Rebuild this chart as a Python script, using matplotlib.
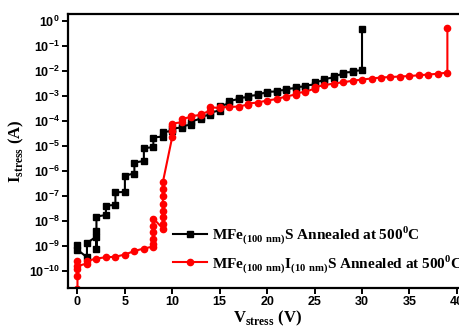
import numpy as np
import matplotlib
matplotlib.use("Agg")
import matplotlib.pyplot as plt
from matplotlib.ticker import LogFormatterMathtext, FixedLocator

# stress sweep of the annealed stacks; currents stored as log10(I / A)
black_v = [0, 0, 1, 1, 2, 2, 2, 2, 3, 3, 4, 4, 5, 5, 6, 6, 7, 7, 8, 8, 9, 9,
           10, 10, 11, 11, 12, 12, 13, 13, 14, 14, 15, 15, 16, 16, 17, 17,
           18, 18, 19, 19, 20, 20, 21, 21, 22, 22, 23, 23, 24, 24, 25, 25,
           26, 26, 27, 27, 28, 28, 29, 29, 30, 30]
black_log_i = [-8.95, -9.15, -9.45, -8.88, -8.62, -9.12, -8.4, -7.82,
               -7.76, -7.38, -7.36, -6.85, -6.84, -6.18, -6.1, -5.66,
               -5.6, -5.08, -5.05, -4.66, -4.62, -4.44, -4.4, -4.3,
               -4.26, -4.2, -4.15, -4.02, -3.9, -3.82, -3.75, -3.66,
               -3.58, -3.4, -3.3, -3.2, -3.12, -3.08, -3.04, -3.0,
               -2.96, -2.92, -2.86, -2.83, -2.82, -2.78, -2.76, -2.72,
               -2.68, -2.64, -2.62, -2.58, -2.54, -2.44, -2.38, -2.32,
               -2.26, -2.2, -2.12, -2.06, -2.04, -2.0, -1.97, -0.3]

red_v = [0, 0, 0, 0, 0, 1, 1, 2, 3, 4, 5, 6, 7,
         8, 8, 8, 8, 8, 8, 9, 9, 9, 9, 9, 9, 9, 9,
         10, 10, 10, 10, 11, 11, 12, 12, 13, 13, 14, 14, 15, 15,
         16, 17, 18, 18, 19, 20, 21, 22, 23, 23, 24, 25, 25, 26,
         27, 28, 29, 30, 31, 32, 33, 34, 35, 36, 37, 38, 39, 39]
red_log_i = [-10.72, -10.2, -9.9, -9.6, -9.8, -9.7, -9.6, -9.5, -9.45,
             -9.43, -9.34, -9.2, -9.1,
             -9.02, -8.9, -8.7, -8.45, -8.2, -7.9,
             -8.3, -8.1, -7.85, -7.6, -7.3, -7.0, -6.7, -6.45,
             -4.62, -4.4, -4.2, -4.1, -4.05, -3.9, -3.85, -3.8,
             -3.76, -3.72, -3.6, -3.45, -3.48, -3.45,
             -3.44, -3.42, -3.34, -3.3, -3.26, -3.18, -3.12, -3.02,
             -2.94, -2.88, -2.84, -2.7, -2.64, -2.57,
             -2.5, -2.45, -2.39, -2.34, -2.3, -2.26, -2.24, -2.22,
             -2.2, -2.17, -2.14, -2.11, -2.06, -0.28]

black_label = r'MFe$_{\mathdefault{(100\ nm)}}$S Annealed at 500$^{\mathdefault{0}}$C'
red_label = (r'MFe$_{\mathdefault{(100\ nm)}}$I$_{\mathdefault{(10\ nm)}}$'
             r'S Annealed at 500$^{\mathdefault{0}}$C')

x_ticks = [0, 5, 10, 15, 20, 25, 30, 35, 40]
y_ticks = [1e-10, 1e-9, 1e-8, 1e-7, 1e-6, 1e-5, 1e-4, 1e-3, 1e-2, 1e-1, 1e0]

fig = plt.figure(figsize=(4.6, 3.29), dpi=100)
ax = fig.add_axes([0.1478, 0.1246, 0.866, 0.8328])

ax.plot(black_v, 10.0 ** np.array(black_log_i), color='black', lw=1.5,
        marker='s', ms=4, label=black_label)
ax.plot(red_v, 10.0 ** np.array(red_log_i), color='red', lw=1.5,
        marker='o', ms=4.5, label=red_label)

ax.set_yscale('log')
ax.set_xlim(-1, 41)
ax.set_ylim(10 ** -10.68, 10 ** 0.28)
ax.xaxis.set_major_locator(FixedLocator(x_ticks))
ax.yaxis.set_major_locator(FixedLocator(y_ticks))
ax.yaxis.set_minor_locator(FixedLocator([]))
ax.yaxis.set_major_formatter(LogFormatterMathtext())

for s in ax.spines.values():
    s.set_linewidth(1.6)
ax.tick_params(direction='out', length=4, width=1.4, pad=2)
for lbl in ax.get_xticklabels() + ax.get_yticklabels():
    lbl.set_fontfamily('Liberation Sans')
    lbl.set_fontweight('bold')
    lbl.set_fontsize(9)

serif = {'family': 'Liberation Serif', 'weight': 'bold', 'size': 12}
ax.set_xlabel(r'V$_{\mathdefault{stress}}$ (V)', fontdict=serif, labelpad=0)
ax.set_ylabel(r'I$_{\mathdefault{stress}}$ (A)', fontdict=serif, labelpad=2)

legend_font = {'family': 'Liberation Serif', 'weight': 'bold', 'size': 11}
ax.legend(loc='upper left', bbox_to_anchor=(0.264, 0.232), frameon=False,
          prop=legend_font, handlelength=2.2, handletextpad=0.35,
          borderpad=0, borderaxespad=0, labelspacing=0.45)

fig.savefig('out.png', dpi=100)
